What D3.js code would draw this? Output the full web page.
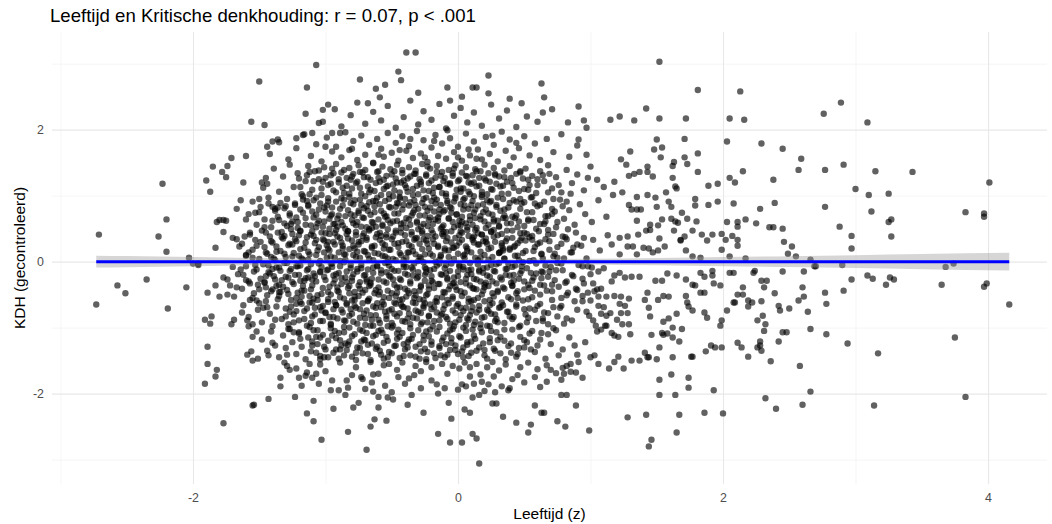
<!DOCTYPE html>
<meta charset="utf-8">
<title>Leeftijd en Kritische denkhouding</title>
<script src="https://d3js.org/d3.v7.min.js"></script>
<style>
  body { margin: 0; background: #fff; font-family: "Liberation Sans", Arial, sans-serif; }
</style>
<body>
<div id="plot"></div>
<script>
var puntenLinks = [
  -2.73,-.65, -2.71,.41, -2.57,-.36, -2.51,-.48, -2.35,-.27, -2.26,.38, -2.23,1.18, -2.2,.64, -2.2,.15, -2.19,-.71,
  -2.05,-.39, -2.03,.06, -2.0,-.03, -1.96,-.03, -1.96,-.05, -1.91,-.88, -1.86,-.83, -1.87,-.94, -1.89,-1.29, -1.89,-1.55,
  -1.82,-1.64, -1.83,-1.74, -1.91,-1.85, -1.77,-2.45, -1.89,-.47, -1.83,-.36, -1.8,-.53, -1.77,-.24, -1.74,-.27, -1.72,-.36,
  -1.74,-.5, -1.69,-.53, -1.67,-.39, -1.71,-.95, -1.69,-.88, -1.63,-.77, -1.59,-.89, -1.58,-.98, -1.55,-.95, -1.55,-1.14,
  -1.52,-1.06, -1.57,-.58, -1.52,-.59, -1.51,-.35, -1.59,-1.41, -1.56,-1.36, -1.55,-1.5, -1.51,-1.47, -1.43,-1.42, -1.55,-2.18,
  -1.54,-2.17, -1.43,-2.08, -1.9,1.23, -1.87,1.06, -1.85,1.44, -1.83,.21, -1.82,.6, -1.8,.63, -1.77,.63, -1.75,.62,
  -1.77,.45, -1.78,1.36, -1.75,1.28, -1.74,1.45, -1.71,1.57, -1.67,.8, -1.64,.93, -1.62,1.2, -1.6,1.6, -1.56,2.12,
  -1.5,2.73, -1.46,2.07, -1.6,.1, -1.7,.36, -1.67,.34, -1.61,.38, -1.57,.44, -1.6,.64, -1.53,.74, -1.47,1.12,
  -1.48,1.2, -1.43,.88, -1.4,.83, -1.38,.8, -1.36,.82, -1.44,1.74, -1.4,1.82, -1.36,1.85, -1.45,1.27, -1.65,.23,
  -1.58,.14, -1.55,.06, -1.64,-.12, -1.7,-.08, -1.62,-.2, -1.58,-.3, -1.54,-.15, -1.5,-.42, -1.47,-.7, -1.45,-.22,
  -1.49,.3, -1.46,.52, -1.5,.95
];

var puntenBoven = [
  -1.14,2.64, -1.07,2.98, -1.05,2.1, -1.1,1.95, -1.17,1.92, -1.22,1.87, -.74,2.76, -.62,2.62, -.55,2.68, -.59,2.49,
  -.45,2.88, -.43,2.75, -.39,3.17, -.32,3.17, -.3,2.56, -.08,2.64, -.06,2.44, .03,2.5, .11,2.64, .14,2.64,
  .23,2.82, .23,2.55, .39,2.47, -.95,1.95, -.89,1.95, -1.02,2.3, -.98,2.38, -.68,2.4, .63,2.7, .65,2.49,
  .64,2.26, .48,2.4, .91,2.35, .83,2.11, .95,2.14, .97,2.03, .91,1.85, 1.52,3.03,
  -1.02,2.12, -.93,2.31, -.88,2.05, -.81,2.22, -.76,2.41, -.7,2.09, -.64,2.27, -.58,2.14, -.53,2.36, -.47,2.03,
  -.41,2.19, -.36,2.44, -.3,2.08, -.26,2.28, -.2,2.15, -.14,2.39, -.09,2.02, -.03,2.21, .02,2.33, .07,2.11,
  .12,2.26, .18,2.06, .25,2.38, .31,2.17, .37,2.29, .44,2.04, .52,2.2, .6,2.12, .71,2.31, -1.15,2.24
];

var puntenRechtsBoven = [
  1.15,2.15, 1.22,2.2, 1.33,2.14, 1.42,2.32, 1.52,2.17, 1.72,2.17, 1.81,2.6, 2.13,2.58, 2.05,2.17, 2.16,2.15,
  2.03,1.82, 2.29,1.79, 2.45,1.71, 2.59,1.56, 2.76,2.24, 2.89,2.41, 3.09,2.11, 2.77,1.39, 2.91,1.47, 3.15,1.37,
  3.43,1.36, 4.01,1.2, 2.57,1.39, 2.38,1.24, 2.09,1.2, 2.05,1.27, 2.15,1.37, 2.39,.89, 2.28,.8, 2.35,.52,
  2.38,.52, 2.45,.5, 2.25,.58, 2.17,.64, 2.11,.6, 2.11,.53, 2.03,.6, 2.08,.88, 1.96,1.18, 1.89,1.15,
  1.96,.91, 1.89,.86, 2.46,.3, 2.49,.12, 2.55,.08, 2.52,.23, 2.66,.03, 2.7,-.07, 2.77,.83, 2.88,.53,
  2.97,.39, 2.97,.2, 3.0,1.1, 3.1,1.01, 3.12,.76, 3.25,1.03, 3.25,.6, 3.27,.64, 3.27,.38, 3.83,.75,
  3.97,.73, 3.97,.68, 3.68,-.08, 3.74,-.03, 2.9,-.05,
  1.71,1.86, 1.5,1.85, 1.48,1.7, 1.54,1.73, 1.53,1.58, 1.3,1.67, 1.23,1.55, 1.27,1.47, 1.29,1.3, 1.33,1.33,
  1.37,1.36, 1.43,1.44, 1.43,1.36, 1.47,1.29, 1.63,1.51, 1.62,1.45, 1.71,1.58, 1.73,1.48, 1.81,1.64, 1.81,1.36,
  1.62,1.27, 1.64,1.14, 1.65,1.11, 1.57,1.05, 1.49,.97, 1.5,.83, 1.59,.91, 1.61,.83, 1.35,.98, 1.43,1.01,
  1.35,.79, 1.38,.79, 1.31,.79, 1.29,.86, 1.24,1.05, 1.17,1.01, 1.18,1.21, 1.79,.95, 1.79,.85, 1.8,.61,
  1.77,.47, 1.71,.38, 1.68,.32, 1.72,.17, 1.77,.08, 1.83,.06, 1.84,.41, 1.88,.32, 1.92,.41, 1.99,.42,
  2.02,.33, 1.99,.18, 2.05,.08, 2.07,.39, 2.11,.33, 2.11,.24, 2.17,.05, 1.35,.62, 1.45,.56, 1.42,.47,
  1.45,.48, 1.51,.55, 1.52,.35, 1.56,.23, 1.54,.64, 1.61,.65, 1.64,.61, 1.66,.59, 1.69,.74, 1.73,.65,
  1.63,.47, 1.68,.33, 1.36,.41, 1.35,.11, 1.4,.21, 1.44,.2, 1.47,.14, 1.51,.17, 1.32,.23, 1.28,.23,
  1.22,.36, 1.28,.38, 1.22,.11, 1.16,.26
];

var puntenRechtsOnder = [
  4.16,-.65, 3.97,-.38, 3.99,-.33, 3.65,-.35, 3.75,-1.15, 3.83,-2.05, 3.14,-2.18, 3.17,-1.39, 2.94,-1.24, 3.23,-.35,
  3.26,-.24, 3.29,-.27, 3.09,-.21, 3.13,-.26, 2.97,-.27, 2.91,-.44, 2.77,-.47, 2.78,-.64, 2.78,-1.1, 2.66,-1.02,
  2.66,-1.97, 2.6,-2.17, 2.58,-1.58, 2.64,-.76, 2.6,-.39, 2.61,-.53, 2.57,-.59, 2.61,-.15, 2.69,-.07, 2.45,-.15,
  2.5,-.71, 2.43,-.74, 2.42,-.67, 2.48,-1.07, 2.45,-1.07, 2.42,-1.21, 2.36,-1.51, 2.4,-2.23, 2.32,-2.07, 2.39,-.48,
  2.29,-.29, 2.33,-.29, 2.31,-.39, 2.29,-.6, 2.3,-.82, 2.32,-.95, 2.26,-.89, 2.31,-1.05, 2.28,-1.21, 2.28,-1.27,
  2.29,-1.35, 2.26,-1.3, 2.19,-1.44, 2.14,-1.3, 2.11,-1.23, 2.23,-.17, 2.24,-.14, 2.15,-.39, 2.11,-.5, 2.15,-.5,
  2.08,-.62, 2.09,-.62, 2.19,-.59, 2.22,-.62, 2.19,-.68, 2.03,-.74, 2.05,-.17, 2.08,-.17, 2.0,-2.3, 1.86,-2.29,
  1.93,-1.95, 1.87,-1.36, 1.91,-1.27, 1.94,-1.3, 1.99,-1.3, 1.98,-.97, 1.99,-.89, 1.86,-.47, 1.88,-.85, 1.86,-.77,
  1.92,-.21, 1.93,-.33, 1.98,-.36, 1.92,-.14, 1.77,-1.44, 1.74,-1.76, 1.74,-1.91, 1.67,-2.32, 1.65,-2.59, 1.64,-2.02,
  1.61,-1.71, 1.52,-1.79, 1.52,-2.02, 1.46,-2.7, 1.44,-2.8, 1.42,-2.32, 1.28,-2.36, .99,-2.56, .81,-2.5, .75,-2.42,
  .89,-2.18, .78,-2.02, .82,-2.02, .63,-2.29, .65,-2.29, .58,-2.18, .53,-2.59, .55,-2.47, .94,-1.76, .89,-1.68,
  .85,-1.67, .8,-1.7, .78,-1.79, .67,-1.82, .7,-1.64, .85,-1.55, .91,-1.52, .79,-1.61, 1.06,-1.55, 1.14,-1.62,
  1.18,-1.52, 1.21,-1.44, 1.25,-1.62, 1.31,-1.5, 1.37,-1.5, 1.43,-1.45, 1.5,-1.48, 1.62,-1.45, 1.76,-1.44, 1.0,-1.45,
  1.03,-1.42, 1.02,-.89, 1.05,-1.06, 1.11,-.97, 1.41,-1.38, 1.44,-1.45, 1.52,-1.3, 1.55,-1.11, 1.58,-1.09, 1.62,-1.0,
  1.69,-1.02, 1.67,-1.21, 1.62,-1.15, 1.46,-1.11, 1.55,-.91, 1.59,-.86, 1.54,-1.08, 1.21,-1.14, 1.18,-1.12, 1.16,-1.08,
  1.12,-.97, 1.08,-1.03, 1.3,-1.1, 1.29,-.95, 1.24,-.95, 1.23,-.78, 1.28,-.78, 1.2,-.88, 1.15,-.78, 1.43,-.47,
  1.41,-.58, 1.44,-.7, 1.45,-.83, 1.51,-.58, 1.55,-.52, 1.59,-.53, 1.65,-.79, 1.72,-.52, 1.74,-.68, 1.77,-.74,
  1.73,-.62, 1.49,-.29, 1.54,-.29, 1.58,-.18, 1.65,-.21, 1.72,-.27, 1.77,-.35, 1.79,-.36, 1.83,-.17, 1.86,-.23,
  1.83,-.47, 1.06,-.67, 1.0,-.59, .97,-.76, 1.03,-.45, 1.06,-.53, 1.12,-.53, 1.08,-.41, 1.02,-.33, 1.06,-.15,
  1.01,-.09, .98,-.47, .94,-.52, 1.23,-.53, 1.29,-.56, 1.26,-.67, 1.22,-.64, 1.18,-.52, 1.12,-.82, 1.08,-.79,
  1.18,-.21, 1.22,-.17, 1.26,-.24, 1.31,-.23, 1.37,-.23
];

var puntenOnder = [
  -1.34,-1.76, -1.34,-1.89, -1.31,-1.53, -1.27,-1.64, -1.22,-1.62, -1.2,-1.76, -1.23,-2.05, -1.14,-2.3, -1.09,-2.42, -1.03,-2.7,
  -1.15,-1.73, -1.1,-1.76, -1.07,-1.7, -1.14,-1.68, -1.05,-1.85, -1.09,-2.11, -1.04,-1.48, -.94,-2.23, -.83,-2.58, -.9,-1.95,
  -.85,-2.02, -.83,-1.91, -.79,-2.21, -.75,-2.14, -.69,-2.85, -.66,-2.5, -.63,-2.39, -.6,-2.21, -.6,-2.05, -.54,-2.41,
  -.64,-1.97, -.65,-1.83, -.64,-1.71, -.53,-2.06, -.49,-2.09, -.38,-2.17, -.35,-2.02, -.26,-2.29, -.15,-2.61, -.06,-2.74,
  .03,-2.74, -.05,-2.38, -.07,-2.14, .05,-2.24, .09,-2.29, .11,-2.61, .14,-2.68, .16,-3.06, .11,-2.06, .16,-2.02,
  .26,-2.15, .29,-2.15, .34,-2.35, .44,-2.44, .38,-1.95, .39,-1.92, 0,-1.94, .03,-1.86, .06,-1.89, .09,-1.74,
  .12,-1.85, .17,-1.71, .23,-1.86, .27,-1.74, .33,-1.89, -.2,-1.8, -.28,-1.92, -.4,-1.85, -.45,-1.75, -.55,-1.88,
  -.72,-1.78, -.8,-1.72, -.95,-1.8, .45,-1.72, .5,-1.83, .58,-1.75, .62,-1.9, -.15,-2.0, -.33,-1.72, .2,-1.96,
  -1.29,-1.58, -1.18,-1.88, -1.12,-1.55, -1.0,-1.66, -.96,-1.95, -.89,-1.53, -.84,-1.8, -.77,-1.6, -.7,-1.93, -.66,-1.52,
  -.6,-1.7, -.56,-1.57, -.5,-1.98, -.46,-1.64, -.42,-1.53, -.37,-1.77, -.32,-1.58, -.28,-1.66, -.24,-1.52, -.2,-1.6,
  -.16,-1.86, -.12,-1.55, -.08,-1.7, -.04,-1.58, .01,-1.62, .05,-1.53, .09,-1.6, .14,-1.55, .18,-1.82, .22,-1.6,
  .26,-1.52, .31,-1.65, .36,-1.56, .41,-1.78, .47,-1.6, .53,-1.53, .6,-1.63, .67,-1.57, .74,-1.69, .82,-1.58,
  -1.04,-1.56, -.73,-1.75, -.52,-1.55, -.1,-1.92, .28,-1.98
];

// kern van de wolk, per strook in KDH
var kern15tot20 = [
  -1.42,1.63, -1.35,1.81, -1.28,1.55, -1.22,1.72, -1.16,1.93, -1.11,1.6, -1.07,1.78, -1.03,1.52, -.99,1.88, -.95,1.67,
  -.92,1.74, -.88,1.58, -.85,1.96, -.82,1.69, -.79,1.83, -.76,1.54, -.73,1.91, -.7,1.62, -.67,1.77, -.64,1.5,
  -.61,1.86, -.58,1.71, -.56,1.59, -.53,1.95, -.5,1.65, -.47,1.8, -.45,1.53, -.42,1.9, -.39,1.68, -.37,1.75,
  -.34,1.57, -.31,1.98, -.28,1.64, -.26,1.84, -.23,1.51, -.2,1.73, -.17,1.92, -.15,1.6, -.12,1.79, -.09,1.56,
  -.06,1.87, -.03,1.66, 0,1.74, .03,1.53, .06,1.94, .09,1.61, .12,1.82, .15,1.7, .18,1.55, .21,1.89,
  .24,1.63, .27,1.77, .3,1.52, .33,1.97, .36,1.68, .39,1.85, .42,1.58, .46,1.72, .5,1.9, .54,1.61,
  .58,1.79, .62,1.54, .67,1.86, .72,1.66, .78,1.93, .84,1.59, .9,1.76, .97,1.62, -.6,1.62, -.44,1.69,
  -.25,1.58, -.08,1.99, .08,1.7, .26,1.91, -.8,1.71, -.36,1.86, .14,1.56, .44,1.8, -1.0,1.74, -.18,1.83, 0,1.58
];

var kern10tot15 = [
  -1.44,1.18, -1.39,1.41, -1.35,1.06, -1.32,1.29, -1.27,1.47, -1.24,1.13, -1.21,1.34, -1.18,1.02, -1.15,1.22, -1.13,1.45,
  -1.1,1.09, -1.08,1.37, -1.05,1.25, -1.03,1.01, -1.01,1.43, -.98,1.16, -.96,1.31, -.94,1.08, -.92,1.48, -.9,1.2,
  -.88,1.35, -.86,1.04, -.84,1.27, -.82,1.42, -.8,1.11, -.79,1.33, -.77,1.19, -.75,1.46, -.73,1.03, -.71,1.28,
  -.7,1.39, -.68,1.14, -.66,1.24, -.64,1.49, -.63,1.07, -.61,1.36, -.59,1.21, -.57,1.44, -.56,1.1, -.54,1.3,
  -.52,1.02, -.51,1.4, -.49,1.17, -.47,1.26, -.46,1.47, -.44,1.05, -.42,1.34, -.41,1.23, -.39,1.12, -.37,1.43,
  -.36,1.29, -.34,1.01, -.32,1.38, -.31,1.15, -.29,1.25, -.27,1.48, -.26,1.08, -.24,1.32, -.22,1.19, -.21,1.41,
  -.19,1.04, -.17,1.27, -.16,1.45, -.14,1.13, -.12,1.36, -.11,1.22, -.09,1.03, -.07,1.39, -.06,1.17, -.04,1.3,
  -.02,1.46, -.01,1.09, .01,1.24, .03,1.35, .04,1.11, .06,1.43, .08,1.2, .09,1.02, .11,1.31, .13,1.4,
  .14,1.14, .16,1.27, .18,1.06, .2,1.47, .21,1.23, .23,1.34, .25,1.1, .27,1.42, .29,1.18, .31,1.29,
  .33,1.03, .35,1.38, .37,1.21, .39,1.45, .42,1.12, .44,1.33, .46,1.07, .49,1.26, .51,1.41, .54,1.16,
  .56,1.3, .59,1.04, .62,1.37, .65,1.22, .68,1.46, .71,1.11, .74,1.28, .78,1.05, .82,1.39, .86,1.19,
  .9,1.32, .95,1.08, 1.0,1.44, 1.05,1.24, 1.1,1.13,
  -1.2,1.26, -1.12,1.36, -1.02,1.21, -.95,1.41, -.87,1.12, -.81,1.24, -.74,1.36, -.67,1.05, -.6,1.27, -.53,1.15,
  -.48,1.37, -.43,1.2, -.38,1.06, -.33,1.33, -.28,1.21, -.23,1.44, -.18,1.12, -.13,1.3, -.08,1.18, -.03,1.41,
  .02,1.06, .07,1.29, .12,1.2, .17,1.37, .22,1.02, .28,1.31, .34,1.15, .4,1.27, .47,1.37, .53,1.09,
  .6,1.25, .69,1.33, .76,1.16, .85,1.03, .98,1.27
];

var kern05tot10 = [
  -1.58,.72, -1.55,.91, -1.52,.56, -1.49,.83, -1.46,.64, -1.43,.97, -1.41,.52, -1.38,.77, -1.36,.68, -1.34,.89,
  -1.31,.58, -1.29,.95, -1.27,.73, -1.25,.61, -1.23,.86, -1.21,.51, -1.19,.79, -1.17,.99, -1.15,.66, -1.13,.84,
  -1.11,.55, -1.09,.93, -1.07,.71, -1.05,.62, -1.04,.88, -1.02,.53, -1.0,.76, -.98,.96, -.97,.65, -.95,.82,
  -.93,.57, -.92,.91, -.9,.7, -.88,.6, -.87,.85, -.85,.5, -.83,.78, -.82,.98, -.8,.63, -.79,.87,
  -.77,.55, -.75,.74, -.74,.94, -.72,.67, -.71,.81, -.69,.52, -.67,.9, -.66,.71, -.64,.59, -.63,.84,
  -.61,.97, -.6,.64, -.58,.77, -.57,.54, -.55,.92, -.54,.69, -.52,.83, -.51,.58, -.49,.99, -.48,.73,
  -.46,.62, -.45,.88, -.43,.51, -.42,.79, -.4,.95, -.39,.66, -.37,.85, -.36,.56, -.34,.74, -.33,.93,
  -.31,.61, -.3,.8, -.28,.53, -.27,.89, -.25,.7, -.24,.97, -.22,.63, -.21,.82, -.19,.57, -.18,.76,
  -.16,.94, -.15,.67, -.13,.86, -.12,.52, -.1,.78, -.09,.99, -.07,.65, -.06,.83, -.04,.6, -.03,.91,
  -.01,.72, 0,.55, .02,.87, .03,.68, .05,.96, .06,.58, .08,.8, .09,.63, .11,.92, .12,.74,
  .14,.51, .15,.85, .17,.69, .18,.98, .2,.61, .21,.79, .23,.56, .24,.9, .26,.71, .27,.64,
  .29,.86, .31,.53, .32,.77, .34,.95, .36,.66, .38,.82, .4,.58, .42,.93, .44,.7, .46,.61,
  .48,.88, .5,.54, .52,.75, .55,.97, .57,.63, .6,.84, .62,.57, .65,.91, .68,.69, .71,.8,
  .74,.52, .77,.94, .8,.65, .84,.78, .88,.56, .92,.87, .96,.72, 1.01,.6, 1.06,.93, 1.12,.68,
  -1.5,.75, -1.4,.62, -1.3,.84, -1.22,.67, -1.14,.92, -1.06,.58, -1.01,.82, -.96,.7, -.91,.53, -.86,.94,
  -.81,.72, -.76,.6, -.73,.86, -.68,.77, -.65,.51, -.62,.92, -.56,.73, -.53,.63, -.47,.83, -.44,.96,
  -.41,.59, -.35,.7, -.32,.86, -.26,.57, -.23,.77, -.2,.92, -.17,.64, -.14,.79, -.11,.55, -.08,.89,
  -.05,.74, -.02,.96, .01,.62, .04,.79, .07,.52, .1,.86, .13,.66, .19,.75, .25,.92, .3,.62,
  .35,.79, .41,.68, .47,.95, .53,.64, .58,.88, .66,.61, .73,.76, .82,.91
];

var kern00tot05 = [
  -1.63,.27, -1.6,.09, -1.57,.41, -1.55,.18, -1.53,.33, -1.5,.04, -1.48,.47, -1.46,.22, -1.44,.12, -1.42,.38,
  -1.4,.29, -1.38,.02, -1.36,.44, -1.34,.16, -1.32,.35, -1.3,.07, -1.28,.25, -1.26,.49, -1.24,.13, -1.22,.31,
  -1.2,.4, -1.18,.05, -1.16,.21, -1.14,.37, -1.12,.11, -1.1,.46, -1.08,.28, -1.06,.17, -1.04,.01, -1.02,.34,
  -1.0,.43, -.98,.2, -.96,.08, -.94,.3, -.92,.48, -.9,.14, -.89,.36, -.87,.24, -.85,.03, -.84,.42,
  -.82,.19, -.8,.32, -.79,.1, -.77,.45, -.75,.26, -.74,.06, -.72,.39, -.7,.15, -.69,.33, -.67,.49,
  -.65,.23, -.64,.02, -.62,.37, -.6,.12, -.59,.44, -.57,.28, -.55,.08, -.54,.41, -.52,.18, -.5,.34,
  -.49,.04, -.47,.47, -.45,.22, -.44,.13, -.42,.3, -.4,.4, -.39,.06, -.37,.25, -.35,.45, -.34,.16,
  -.32,.35, -.3,.01, -.29,.27, -.27,.43, -.25,.11, -.24,.32, -.22,.2, -.2,.48, -.19,.09, -.17,.38,
  -.15,.24, -.14,.03, -.12,.42, -.1,.17, -.09,.31, -.07,.07, -.05,.46, -.04,.21, -.02,.36, 0,.12,
  .01,.29, .03,.44, .05,.05, .06,.23, .08,.39, .1,.14, .11,.33, .13,.48, .15,.02, .16,.26,
  .18,.41, .2,.1, .21,.35, .23,.19, .25,.45, .26,.07, .28,.3, .3,.4, .32,.15, .33,.24,
  .35,.04, .37,.47, .39,.2, .41,.36, .43,.09, .45,.28, .47,.43, .49,.13, .51,.32, .54,.01,
  .56,.39, .58,.22, .61,.46, .63,.11, .66,.34, .69,.18, .72,.42, .75,.06, .78,.27, .81,.37,
  .85,.14, .89,.44, .93,.24, .97,.05, 1.02,.33, 1.07,.17, 1.13,.4,
  -1.52,.24, -1.45,.44, -1.37,.15, -1.31,.39, -1.25,.26, -1.19,.46, -1.13,.03, -1.07,.33, -1.01,.14, -.97,.42,
  -.93,.06, -.88,.29, -.83,.46, -.78,.2, -.73,.31, -.68,.1, -.63,.24, -.58,.39, -.53,.05, -.48,.27,
  -.43,.44, -.38,.14, -.33,.33, -.28,.05, -.23,.39, -.18,.27, -.13,.1, -.08,.36, -.03,.21, .02,.46,
  .07,.16, .12,.38, .17,.06, .22,.27, .27,.48, .31,.13, .36,.31, .42,.22, .46,.02, .52,.42,
  .57,.16, .62,.29, .68,.48, .73,.12, .79,.38, .87,.21, .95,.36, -1.41,.07, -.99,.25, -.86,.11,
  -.71,.43, -.56,.2, -.41,.02, -.26,.34, -.11,.45, .04,.09, .19,.31, .34,.2, .48,.36, .64,.05
];

var kernMin05tot00 = [
  -1.66,-.19, -1.63,-.41, -1.6,-.07, -1.57,-.33, -1.54,-.48, -1.52,-.12, -1.49,-.26, -1.47,-.04, -1.45,-.39, -1.43,-.16,
  -1.41,-.45, -1.39,-.22, -1.37,-.09, -1.35,-.35, -1.33,-.28, -1.31,-.02, -1.29,-.43, -1.27,-.14, -1.25,-.31, -1.23,-.2,
  -1.21,-.47, -1.19,-.06, -1.17,-.37, -1.15,-.25, -1.13,-.11, -1.11,-.42, -1.09,-.18, -1.07,-.3, -1.05,-.03, -1.03,-.49,
  -1.01,-.23, -.99,-.13, -.97,-.38, -.95,-.08, -.93,-.27, -.91,-.44, -.9,-.17, -.88,-.34, -.86,-.01, -.85,-.24,
  -.83,-.4, -.81,-.1, -.8,-.29, -.78,-.46, -.76,-.15, -.75,-.36, -.73,-.05, -.71,-.21, -.7,-.43, -.68,-.12,
  -.66,-.32, -.65,-.26, -.63,-.48, -.61,-.07, -.6,-.39, -.58,-.18, -.56,-.3, -.55,-.02, -.53,-.44, -.51,-.23,
  -.5,-.11, -.48,-.35, -.46,-.47, -.45,-.14, -.43,-.28, -.41,-.04, -.4,-.41, -.38,-.2, -.36,-.33, -.35,-.09,
  -.33,-.45, -.31,-.25, -.3,-.16, -.28,-.38, -.26,-.01, -.25,-.29, -.23,-.49, -.21,-.13, -.2,-.22, -.18,-.4,
  -.16,-.06, -.15,-.34, -.13,-.19, -.11,-.46, -.1,-.1, -.08,-.27, -.06,-.37, -.05,-.03, -.03,-.24, -.01,-.43,
  0,-.15, .02,-.31, .04,-.08, .05,-.47, .07,-.2, .09,-.36, .1,-.12, .12,-.26, .14,-.42, .15,-.04,
  .17,-.3, .19,-.17, .2,-.39, .22,-.09, .24,-.23, .26,-.48, .27,-.14, .29,-.33, .31,-.02, .33,-.27,
  .35,-.41, .37,-.11, .39,-.21, .41,-.36, .43,-.06, .45,-.45, .47,-.18, .5,-.3, .52,-.1, .54,-.4,
  .57,-.24, .59,-.03, .62,-.35, .64,-.16, .67,-.44, .7,-.08, .73,-.28, .76,-.38, .79,-.13, .83,-.47,
  .87,-.22, .91,-.05, .95,-.33, 1.0,-.19, 1.05,-.42, 1.1,-.1, 1.16,-.3,
  -1.6,-.28, -1.53,-.05, -1.46,-.31, -1.4,-.11, -1.34,-.46, -1.28,-.24, -1.22,-.07, -1.16,-.44, -1.1,-.27, -1.04,-.15,
  -.98,-.46, -.94,-.21, -.89,-.07, -.84,-.31, -.79,-.19, -.74,-.41, -.69,-.27, -.64,-.09, -.59,-.46, -.54,-.16,
  -.49,-.27, -.44,-.39, -.39,-.08, -.34,-.21, -.29,-.44, -.24,-.11, -.19,-.31, -.14,-.03, -.09,-.18, -.04,-.33,
  .01,-.05, .06,-.26, .11,-.4, .16,-.15, .21,-.32, .25,-.05, .3,-.44, .36,-.2, .42,-.29, .48,-.07,
  .53,-.35, .58,-.44, .63,-.25, .69,-.15, .75,-.02, .81,-.32, .89,-.41, .98,-.07, -1.37,-.37, -1.19,-.29,
  -.96,-.03, -.82,-.48, -.67,-.37, -.52,-.06, -.37,-.48, -.22,-.36, -.07,-.42, .08,-.13, .23,-.37, .38,-.03,
  .55,-.17, .71,-.35
];

var kernMin10totMin05 = [
  -1.62,-.66, -1.58,-.84, -1.55,-.55, -1.51,-.73, -1.48,-.92, -1.45,-.6, -1.42,-.79, -1.4,-.98, -1.37,-.68, -1.35,-.52,
  -1.33,-.87, -1.3,-.71, -1.28,-.95, -1.26,-.58, -1.24,-.8, -1.22,-.64, -1.2,-.89, -1.18,-.53, -1.16,-.75, -1.14,-.97,
  -1.12,-.62, -1.1,-.83, -1.08,-.7, -1.06,-.51, -1.04,-.9, -1.02,-.67, -1.0,-.78, -.98,-.57, -.96,-.94, -.94,-.72,
  -.93,-.61, -.91,-.86, -.89,-.54, -.87,-.77, -.86,-.99, -.84,-.65, -.82,-.82, -.8,-.59, -.79,-.91, -.77,-.7,
  -.75,-.52, -.74,-.85, -.72,-.63, -.7,-.96, -.69,-.74, -.67,-.56, -.65,-.88, -.64,-.68, -.62,-.81, -.6,-.5,
  -.59,-.93, -.57,-.61, -.55,-.76, -.54,-.87, -.52,-.55, -.5,-.72, -.49,-.97, -.47,-.64, -.46,-.83, -.44,-.58,
  -.42,-.9, -.41,-.69, -.39,-.53, -.37,-.79, -.36,-.95, -.34,-.62, -.32,-.74, -.31,-.86, -.29,-.57, -.27,-.92,
  -.26,-.7, -.24,-.51, -.22,-.82, -.21,-.65, -.19,-.98, -.17,-.6, -.16,-.77, -.14,-.89, -.12,-.54, -.11,-.72,
  -.09,-.84, -.07,-.63, -.06,-.94, -.04,-.56, -.02,-.78, -.01,-.67, .01,-.88, .03,-.52, .04,-.75, .06,-.96,
  .08,-.61, .09,-.81, .11,-.69, .13,-.91, .15,-.55, .16,-.73, .18,-.85, .2,-.6, .22,-.97, .24,-.66,
  .25,-.79, .27,-.53, .29,-.87, .31,-.7, .33,-.62, .35,-.93, .37,-.76, .4,-.57, .42,-.84, .44,-.68,
  .46,-.99, .49,-.59, .51,-.8, .54,-.71, .56,-.54, .59,-.9, .62,-.64, .65,-.77, .68,-.95, .71,-.58,
  .75,-.83, .78,-.67, .82,-.51, .86,-.89, .9,-.73, .94,-.6, .99,-.82, 1.04,-.97, 1.1,-.69,
  -1.5,-.63, -1.38,-.88, -1.27,-.76, -1.19,-.61, -1.11,-.93, -1.03,-.74, -.97,-.84, -.92,-.66, -.85,-.9, -.78,-.58,
  -.71,-.79, -.66,-.97, -.58,-.69, -.53,-.98, -.48,-.79, -.43,-.65, -.38,-.86, -.33,-.55, -.28,-.78, -.23,-.92,
  -.18,-.69, -.13,-.81, -.08,-.58, -.03,-.98, .02,-.7, .07,-.86, .12,-.58, .17,-.95, .23,-.75, .28,-.9,
  .34,-.66, .39,-.83, .45,-.55, .52,-.92, .58,-.73, .64,-.86, .72,-.69, .8,-.94, .88,-.6, -1.44,-.69,
  -1.09,-.56, -.81,-.72, -.61,-.63, -.25,-.63, .1,-.75
];

var kernMin15totMin10 = [
  -1.48,-1.18, -1.44,-1.35, -1.41,-1.06, -1.38,-1.27, -1.35,-1.45, -1.32,-1.12, -1.3,-1.31, -1.27,-1.02, -1.25,-1.22, -1.22,-1.4,
  -1.2,-1.09, -1.18,-1.29, -1.15,-1.48, -1.13,-1.15, -1.11,-1.36, -1.09,-1.04, -1.06,-1.25, -1.04,-1.43, -1.02,-1.11, -1.0,-1.33,
  -.98,-1.2, -.96,-1.01, -.94,-1.38, -.92,-1.16, -.9,-1.47, -.88,-1.27, -.86,-1.07, -.84,-1.34, -.82,-1.21, -.8,-1.44,
  -.78,-1.1, -.76,-1.3, -.74,-1.03, -.72,-1.39, -.7,-1.19, -.68,-1.26, -.66,-1.49, -.64,-1.13, -.62,-1.32, -.6,-1.05,
  -.58,-1.41, -.56,-1.23, -.54,-1.14, -.52,-1.37, -.5,-1.0, -.48,-1.28, -.46,-1.17, -.44,-1.46, -.42,-1.08, -.4,-1.33,
  -.38,-1.22, -.36,-1.42, -.34,-1.11, -.32,-1.29, -.3,-1.04, -.28,-1.36, -.26,-1.19, -.24,-1.48, -.22,-1.13, -.2,-1.26,
  -.18,-1.39, -.16,-1.06, -.14,-1.31, -.12,-1.2, -.1,-1.45, -.08,-1.09, -.06,-1.34, -.04,-1.02, -.02,-1.27, 0,-1.4,
  .02,-1.15, .04,-1.3, .06,-1.05, .08,-1.43, .1,-1.21, .12,-1.12, .14,-1.35, .17,-1.01, .19,-1.24, .22,-1.47,
  .24,-1.16, .27,-1.32, .29,-1.07, .32,-1.39, .35,-1.2, .38,-1.28, .41,-1.03, .44,-1.44, .47,-1.14, .5,-1.3,
  .54,-1.09, .58,-1.37, .62,-1.18, .66,-1.47, .7,-1.25, .74,-1.04, .79,-1.33, .84,-1.15, .9,-1.41, .96,-1.22,
  -1.4,-1.23, -1.29,-1.41, -1.19,-1.17, -1.1,-1.27, -1.01,-1.45, -.93,-1.05, -.85,-1.24, -.77,-1.38, -.69,-1.08, -.61,-1.29,
  -.53,-1.45, -.45,-1.03, -.37,-1.18, -.29,-1.47, -.21,-1.03, -.13,-1.42, -.05,-1.16, .03,-1.36, .11,-1.03, .2,-1.34,
  .3,-1.19, .4,-1.38, .52,-1.22, .63,-1.08, .76,-1.42, .88,-1.27, -1.24,-1.07, -1.07,-1.14, -.89,-1.33, -.73,-1.21,
  -.57,-1.08, -.41,-1.25, -.25,-1.32, -.09,-1.25, .07,-1.22, .25,-1.05, .46,-1.31, .68,-1.1
];

// dichtste deel van de kern, verschoven stroken
var dicht09tot14 = [
  -1.19,1.13, -1.17,.94, -1.14,1.31, -1.12,1.02, -1.09,1.22, -1.07,.97, -1.05,1.38, -1.03,1.11, -1.0,1.27, -.98,.91,
  -.96,1.18, -.94,1.34, -.92,1.05, -.9,1.25, -.88,.96, -.86,1.39, -.84,1.15, -.82,1.03, -.8,1.29, -.78,.93,
  -.76,1.21, -.74,1.12, -.72,1.35, -.7,.99, -.68,1.28, -.66,1.09, -.64,.92, -.62,1.19, -.6,1.37, -.58,1.01,
  -.56,1.24, -.54,1.14, -.52,.95, -.5,1.32, -.48,1.08, -.46,1.2, -.44,.98, -.42,1.39, -.4,1.16, -.38,1.26,
  -.36,.9, -.34,1.1, -.32,1.33, -.3,1.02, -.28,1.17, -.26,.95, -.24,1.3, -.22,1.07, -.2,1.23, -.18,.97,
  -.16,1.36, -.14,1.13, -.12,1.04, -.1,1.27, -.08,.92, -.06,1.19, -.04,1.34, -.02,1.0, 0,1.22, .02,1.11,
  .04,.94, .06,1.3, .08,1.06, .1,1.18, .12,.99, .14,1.37, .16,1.15, .18,1.01, .2,1.26, .22,.93,
  .24,1.21, .26,1.09, .28,1.33, .3,.97, .32,1.14, .35,1.28, .38,1.03, .41,1.19, .44,.91, .47,1.35,
  .5,1.1, .53,1.24, .56,.98, .6,1.16, .64,1.31, .68,1.05, .72,.95
];

var dicht04tot09 = [
  -1.35,.63, -1.33,.45, -1.31,.81, -1.29,.54, -1.27,.7, -1.25,.42, -1.23,.88, -1.21,.6, -1.19,.47, -1.17,.74,
  -1.15,.56, -1.13,.86, -1.11,.41, -1.09,.67, -1.07,.52, -1.05,.79, -1.03,.44, -1.01,.61, -.99,.85, -.97,.5,
  -.95,.72, -.93,.43, -.91,.65, -.89,.8, -.87,.55, -.85,.69, -.83,.46, -.81,.89, -.79,.58, -.77,.4,
  -.75,.77, -.73,.53, -.71,.66, -.69,.84, -.67,.47, -.65,.6, -.63,.75, -.61,.42, -.59,.87, -.57,.56,
  -.55,.68, -.53,.49, -.51,.82, -.49,.61, -.47,.44, -.45,.73, -.43,.57, -.41,.86, -.39,.51, -.37,.64,
  -.35,.41, -.33,.78, -.31,.59, -.29,.7, -.27,.46, -.25,.83, -.23,.54, -.21,.67, -.19,.43, -.17,.88,
  -.15,.62, -.13,.5, -.11,.76, -.09,.45, -.07,.66, -.05,.81, -.03,.52, -.01,.71, .01,.4, .03,.6,
  .05,.85, .07,.48, .09,.69, .11,.56, .13,.79, .15,.43, .17,.64, .19,.87, .21,.51, .23,.73,
  .25,.46, .27,.61, .29,.83, .31,.54, .33,.42, .35,.7, .37,.58, .39,.89, .41,.47, .43,.66,
  .45,.52, .47,.8, .5,.44, .53,.62, .56,.75, .59,.5, .62,.86, .65,.57, .68,.41, .71,.72,
  .75,.6, .79,.84, .83,.49, -1.26,.57, -1.1,.76, -.94,.57, -.78,.7, -.62,.53, -.46,.89, -.3,.49,
  -.14,.72, .02,.55, .18,.41, .34,.66, .5,.9, .66,.69
];

var dichtMin01tot04 = [
  -1.45,.14, -1.43,-.06, -1.41,.31, -1.39,.05, -1.37,.23, -1.35,-.09, -1.33,.37, -1.31,.12, -1.29,-.02, -1.27,.27,
  -1.25,.08, -1.23,.34, -1.21,-.07, -1.19,.19, -1.17,.03, -1.15,.29, -1.13,.15, -1.11,-.04, -1.09,.39, -1.07,.1,
  -1.05,.22, -1.03,-.08, -1.01,.32, -.99,.06, -.97,.17, -.95,-.03, -.93,.26, -.91,.38, -.89,.01, -.87,.2,
  -.85,.11, -.83,.35, -.81,-.05, -.79,.24, -.77,.07, -.75,.3, -.73,-.1, -.71,.16, -.69,.36, -.67,.04,
  -.65,.21, -.63,.13, -.61,-.06, -.59,.33, -.57,.09, -.55,.25, -.53,-.01, -.51,.18, -.49,.38, -.47,.02,
  -.45,.28, -.43,.1, -.41,-.08, -.39,.31, -.37,.14, -.35,.23, -.33,-.03, -.31,.36, -.29,.07, -.27,.19,
  -.25,-.09, -.23,.27, -.21,.12, -.19,.34, -.17,0, -.15,.22, -.13,.08, -.11,.39, -.09,-.05, -.07,.17,
  -.05,.29, -.03,.04, -.01,.24, .01,-.07, .03,.33, .05,.11, .07,.2, .09,-.02, .11,.36, .13,.06,
  .15,.26, .17,.15, .19,-.1, .21,.3, .23,.03, .25,.21, .27,.38, .29,-.04, .31,.13, .33,.28,
  .35,.05, .37,.35, .39,.18, .41,-.08, .43,.24, .45,.09, .47,.32, .49,-.01, .51,.16, .54,.37,
  .57,.02, .6,.27, .63,.12, .66,-.06, .69,.31, .72,.08, .75,.22, .78,-.03, .82,.34, .86,.14,
  .9,.26, .94,-.07, -1.2,.09, -.98,.3, -.76,.15, -.54,.37, -.32,.11, -.1,.2, .12,.29, .34,.17,
  .56,.33, .8,.05
];

var dichtMin06totMin01 = [
  -1.46,-.32, -1.44,-.51, -1.42,-.18, -1.4,-.42, -1.38,-.27, -1.36,-.57, -1.34,-.14, -1.32,-.38, -1.3,-.23, -1.28,-.49,
  -1.26,-.11, -1.24,-.34, -1.22,-.55, -1.2,-.2, -1.18,-.44, -1.16,-.29, -1.14,-.13, -1.12,-.52, -1.1,-.36, -1.08,-.22,
  -1.06,-.58, -1.04,-.16, -1.02,-.4, -1.0,-.28, -.98,-.12, -.96,-.5, -.94,-.33, -.92,-.19, -.9,-.46, -.88,-.25,
  -.86,-.56, -.84,-.15, -.82,-.37, -.8,-.24, -.78,-.53, -.76,-.11, -.74,-.31, -.72,-.47, -.7,-.2, -.68,-.59,
  -.66,-.35, -.64,-.17, -.62,-.43, -.6,-.27, -.58,-.13, -.56,-.54, -.54,-.32, -.52,-.21, -.5,-.48, -.48,-.14,
  -.46,-.39, -.44,-.26, -.42,-.57, -.4,-.18, -.38,-.44, -.36,-.3, -.34,-.12, -.32,-.51, -.3,-.23, -.28,-.36,
  -.26,-.58, -.24,-.16, -.22,-.42, -.2,-.29, -.18,-.11, -.16,-.55, -.14,-.34, -.12,-.2, -.1,-.47, -.08,-.25,
  -.06,-.14, -.04,-.53, -.02,-.38, 0,-.22, .02,-.45, .04,-.12, .06,-.33, .08,-.56, .1,-.19, .12,-.41,
  .14,-.27, .16,-.13, .18,-.5, .2,-.35, .22,-.21, .24,-.58, .26,-.3, .28,-.15, .3,-.46, .32,-.24,
  .34,-.39, .36,-.11, .38,-.54, .4,-.32, .42,-.2, .44,-.48, .46,-.26, .48,-.14, .5,-.42, .53,-.57,
  .56,-.29, .59,-.18, .62,-.5, .65,-.36, .68,-.23, .71,-.45, .74,-.13, .78,-.55, .82,-.3, .86,-.2,
  .9,-.43, .94,-.26, -1.35,-.46, -1.13,-.24, -.91,-.39, -.69,-.3, -.47,-.52, -.25,-.2, -.03,-.32, .19,-.44,
  .41,-.37, .63,-.15
];

var dichtMin11totMin06 = [
  -1.3,-.83, -1.28,-1.02, -1.26,-.68, -1.24,-.92, -1.22,-.75, -1.2,-1.07, -1.18,-.64, -1.16,-.87, -1.14,-.71, -1.12,-.99,
  -1.1,-.62, -1.08,-.8, -1.06,-1.04, -1.04,-.69, -1.02,-.9, -1.0,-.77, -.98,-.61, -.96,-.96, -.94,-.84, -.92,-.66,
  -.9,-1.08, -.88,-.73, -.86,-.89, -.84,-.63, -.82,-1.0, -.8,-.79, -.78,-.67, -.76,-.94, -.74,-.72, -.72,-1.05,
  -.7,-.86, -.68,-.6, -.66,-.81, -.64,-.97, -.62,-.7, -.6,-.88, -.58,-1.03, -.56,-.65, -.54,-.82, -.52,-.74,
  -.5,-.93, -.48,-.62, -.46,-1.09, -.44,-.78, -.42,-.68, -.4,-.91, -.38,-.71, -.36,-1.01, -.34,-.85, -.32,-.63,
  -.3,-.76, -.28,-.95, -.26,-.67, -.24,-1.06, -.22,-.83, -.2,-.72, -.18,-.9, -.16,-.61, -.14,-.99, -.12,-.79,
  -.1,-.66, -.08,-.87, -.06,-1.04, -.04,-.74, -.02,-.92, 0,-.64, .02,-.81, .04,-1.0, .06,-.7, .08,-.88,
  .1,-.6, .12,-.96, .14,-.77, .16,-.67, .18,-1.07, .2,-.84, .22,-.73, .24,-.98, .26,-.63, .28,-.8,
  .3,-.92, .32,-.69, .35,-1.03, .38,-.76, .41,-.87, .44,-.65, .47,-.97, .5,-.72, .53,-.85, .56,-1.05,
  .6,-.67, .64,-.9, .68,-.78, .72,-1.01, .77,-.7, .82,-.86
];

var dichtMin15totMin11 = [
  -1.1,-1.21, -1.07,-1.38, -1.04,-1.15, -1.01,-1.29, -.98,-1.45, -.95,-1.12, -.92,-1.33, -.89,-1.19, -.86,-1.42, -.83,-1.26,
  -.8,-1.13, -.77,-1.49, -.74,-1.31, -.71,-1.18, -.68,-1.4, -.65,-1.24, -.62,-1.11, -.59,-1.35, -.56,-1.47, -.53,-1.2,
  -.5,-1.39, -.47,-1.27, -.44,-1.14, -.41,-1.43, -.38,-1.3, -.35,-1.17, -.32,-1.44, -.29,-1.25, -.26,-1.12, -.23,-1.37,
  -.2,-1.21, -.17,-1.46, -.14,-1.28, -.11,-1.15, -.08,-1.41, -.05,-1.23, -.02,-1.34, .01,-1.13, .04,-1.45, .07,-1.26,
  .1,-1.38, .13,-1.17, .16,-1.3, .2,-1.42, .24,-1.22, .28,-1.35, .32,-1.14, .36,-1.48, .4,-1.24, .45,-1.4,
  .5,-1.19, .55,-1.33, .6,-1.27
];

var fitX  = [-2.73, -2.5, -2, -1.5, -1, -.5, 0, .5, 1, 1.5, 2, 2.5, 3, 3.5, 4.16];
var fitY  = [0, 0, 0, 0, 0, 0, 0, 0, 0, 0, 0, 0, 0, 0, 0];
var fitSe = [.09, .084, .069, .056, .044, .035, .031, .035, .044, .056, .069, .083, .098, .114, .133];

var xMajor = [-2, 0, 2, 4], xMinor = [-3, -1, 1, 3];
var yMajor = [-2, 0, 2], yMinor = [-3, -1, 1, 3];

var titel = "Leeftijd en Kritische denkhouding: r = 0.07, p < .001";
var xTitel = "Leeftijd (z)";
var yTitel = "KDH (gecontroleerd)";

function paren(arr) {
  var out = [];
  for (var i = 0; i < arr.length; i += 2) out.push([arr[i], arr[i + 1]]);
  return out;
}

var punten = [].concat(
  paren(puntenLinks), paren(puntenBoven), paren(puntenRechtsBoven), paren(puntenRechtsOnder), paren(puntenOnder),
  paren(kern15tot20), paren(kern10tot15), paren(kern05tot10), paren(kern00tot05),
  paren(kernMin05tot00), paren(kernMin10totMin05), paren(kernMin15totMin10),
  paren(dicht09tot14), paren(dicht04tot09), paren(dichtMin01tot04),
  paren(dichtMin06totMin01), paren(dichtMin11totMin06), paren(dichtMin15totMin11)
);

var width = 1052, height = 524;
var panel = {left: 52, right: 1047, top: 32, bottom: 484};

var svg = d3.select("#plot").append("svg")
    .attr("width", width)
    .attr("height", height);

svg.append("rect").attr("width", width).attr("height", height).attr("fill", "#fff");

var x = d3.scaleLinear().domain([-3.064, 4.445]).range([panel.left, panel.right]);
var y = d3.scaleLinear().domain([-3.37, 3.48]).range([panel.bottom, panel.top]);

// grid
function grid(g, axis, kleur, dikte) {
  g.call(axis);
  g.select(".domain").remove();
  g.selectAll("text").remove();
  g.selectAll("line").attr("stroke", kleur).attr("stroke-width", dikte);
}
svg.append("g").attr("transform", "translate(0," + panel.bottom + ")")
  .call(grid, d3.axisBottom(x).tickValues(xMinor).tickSize(-(panel.bottom - panel.top)), "#f2f2f2", 0.8);
svg.append("g").attr("transform", "translate(" + panel.left + ",0)")
  .call(grid, d3.axisLeft(y).tickValues(yMinor).tickSize(-(panel.right - panel.left)), "#f2f2f2", 0.8);
svg.append("g").attr("transform", "translate(0," + panel.bottom + ")")
  .call(grid, d3.axisBottom(x).tickValues(xMajor).tickSize(-(panel.bottom - panel.top)), "#e8e8e8", 1.1);
svg.append("g").attr("transform", "translate(" + panel.left + ",0)")
  .call(grid, d3.axisLeft(y).tickValues(yMajor).tickSize(-(panel.right - panel.left)), "#e8e8e8", 1.1);

// points
svg.append("g")
  .selectAll("circle")
  .data(punten)
  .enter()
  .append("circle")
    .attr("cx", function (d) { return x(d[0]); })
    .attr("cy", function (d) { return y(d[1]); })
    .attr("r", 3.2)
    .attr("fill", "#000")
    .attr("fill-opacity", 0.62);

// confidence band + line
var fit = fitX.map(function (v, i) { return {x: v, y: fitY[i], se: fitSe[i]}; });
svg.append("path")
  .datum(fit)
  .attr("fill", "#999999")
  .attr("fill-opacity", 0.4)
  .attr("d", d3.area()
    .curve(d3.curveMonotoneX)
    .x(function (d) { return x(d.x); })
    .y0(function (d) { return y(d.y - d.se); })
    .y1(function (d) { return y(d.y + d.se); }));
svg.append("path")
  .datum(fit)
  .attr("fill", "none")
  .attr("stroke", "#0000ff")
  .attr("stroke-width", 3)
  .attr("d", d3.line().x(function (d) { return x(d.x); }).y(function (d) { return y(d.y); }));

// axes labels
var xas = svg.append("g").attr("transform", "translate(0," + panel.bottom + ")")
  .call(d3.axisBottom(x).tickValues(xMajor).tickSize(0).tickPadding(9).tickFormat(function (d) { return String(d); }));
xas.select(".domain").remove();
xas.selectAll("text").attr("fill", "#4d4d4d").style("font-size", "12.4px").style("font-family", "Liberation Sans, Arial, sans-serif");

var yas = svg.append("g").attr("transform", "translate(" + panel.left + ",0)")
  .call(d3.axisLeft(y).tickValues(yMajor).tickSize(0).tickPadding(8).tickFormat(function (d) { return String(d); }));
yas.select(".domain").remove();
yas.selectAll("text").attr("fill", "#4d4d4d").style("font-size", "12.4px").style("font-family", "Liberation Sans, Arial, sans-serif");

svg.append("text")
  .attr("x", 50).attr("y", 22)
  .style("font-size", "18.6px")
  .attr("fill", "#000")
  .text(titel);

svg.append("text")
  .attr("x", (panel.left + panel.right) / 2).attr("y", 519)
  .attr("text-anchor", "middle")
  .style("font-size", "15.5px")
  .attr("fill", "#000")
  .text(xTitel);

svg.append("text")
  .attr("transform", "translate(25," + (panel.top + panel.bottom) / 2 + ") rotate(-90)")
  .attr("text-anchor", "middle")
  .style("font-size", "15.5px")
  .attr("fill", "#000")
  .text(yTitel);
</script>
</body>
